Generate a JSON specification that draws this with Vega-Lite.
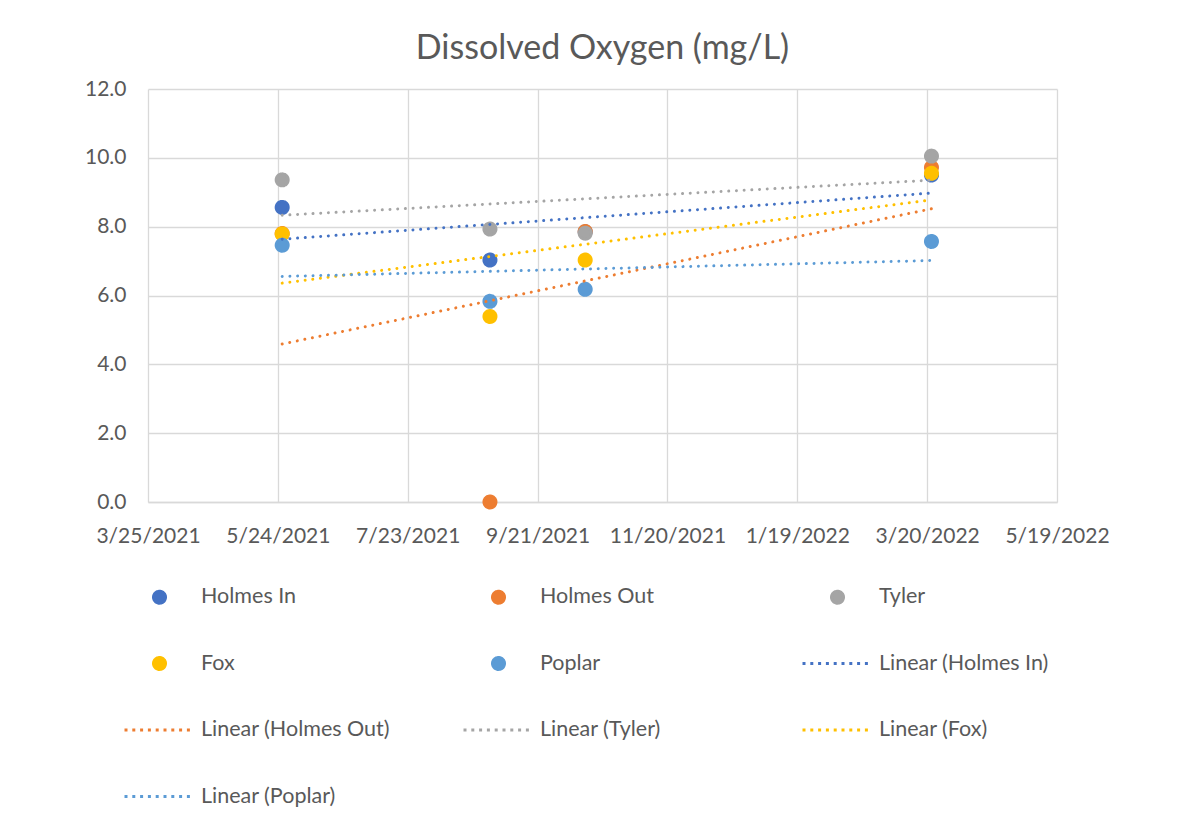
{
  "$schema": "https://vega.github.io/schema/vega-lite/v6.json",
  "width": 909,
  "height": 413,
  "autosize": "none",
  "padding": {"left": 148, "top": 89, "right": 143, "bottom": 322},
  "background": "white",
  "title": {
    "text": "Dissolved Oxygen (mg/L)",
    "anchor": "middle",
    "font": "Lato",
    "fontSize": 34,
    "fontWeight": "normal",
    "color": "#595959",
    "offset": 12
  },
  "config": {
    "view": {"stroke": null},
    "axis": {
      "labelFont": "Lato",
      "labelFontSize": 21,
      "labelColor": "#595959",
      "gridColor": "#D9D9D9",
      "gridWidth": 1.3,
      "ticks": false,
      "title": null
    },
    "legend": {"labelFont": "Lato", "labelFontSize": 21.5, "labelColor": "#595959"}
  },
  "data": {
    "values": [
      {"series": "Holmes In", "trend": "Linear (Holmes In)", "date": "2021-05-26T00:00:00", "do": 8.56},
      {"series": "Holmes In", "trend": "Linear (Holmes In)", "date": "2021-08-30T00:00:00", "do": 7.03},
      {"series": "Holmes In", "trend": "Linear (Holmes In)", "date": "2021-10-13T00:00:00", "do": 7.85},
      {"series": "Holmes In", "trend": "Linear (Holmes In)", "date": "2022-03-22T00:00:00", "do": 9.5},
      {"series": "Holmes Out", "trend": "Linear (Holmes Out)", "date": "2021-05-26T00:00:00", "do": 7.8},
      {"series": "Holmes Out", "trend": "Linear (Holmes Out)", "date": "2021-08-30T00:00:00", "do": 0.0},
      {"series": "Holmes Out", "trend": "Linear (Holmes Out)", "date": "2021-10-13T00:00:00", "do": 7.86},
      {"series": "Holmes Out", "trend": "Linear (Holmes Out)", "date": "2022-03-22T00:00:00", "do": 9.72},
      {"series": "Tyler", "trend": "Linear (Tyler)", "date": "2021-05-26T00:00:00", "do": 9.36},
      {"series": "Tyler", "trend": "Linear (Tyler)", "date": "2021-08-30T00:00:00", "do": 7.93},
      {"series": "Tyler", "trend": "Linear (Tyler)", "date": "2021-10-13T00:00:00", "do": 7.81},
      {"series": "Tyler", "trend": "Linear (Tyler)", "date": "2022-03-22T00:00:00", "do": 10.05},
      {"series": "Fox", "trend": "Linear (Fox)", "date": "2021-05-26T00:00:00", "do": 7.79},
      {"series": "Fox", "trend": "Linear (Fox)", "date": "2021-08-30T00:00:00", "do": 5.39},
      {"series": "Fox", "trend": "Linear (Fox)", "date": "2021-10-13T00:00:00", "do": 7.03},
      {"series": "Fox", "trend": "Linear (Fox)", "date": "2022-03-22T00:00:00", "do": 9.55},
      {"series": "Poplar", "trend": "Linear (Poplar)", "date": "2021-05-26T00:00:00", "do": 7.46},
      {"series": "Poplar", "trend": "Linear (Poplar)", "date": "2021-08-30T00:00:00", "do": 5.83},
      {"series": "Poplar", "trend": "Linear (Poplar)", "date": "2021-10-13T00:00:00", "do": 6.18},
      {"series": "Poplar", "trend": "Linear (Poplar)", "date": "2022-03-22T00:00:00", "do": 7.57}
    ],
    "format": {"parse": {"date": "date"}}
  },
  "encoding": {
    "x": {
      "field": "date",
      "type": "temporal",
      "scale": {
        "domain": [
          {"year": 2021, "month": 3, "date": 25},
          {"year": 2022, "month": 5, "date": 19}
        ],
        "nice": false
      },
      "axis": {
        "values": [
          {"year": 2021, "month": 3, "date": 25},
          {"year": 2021, "month": 5, "date": 24},
          {"year": 2021, "month": 7, "date": 23},
          {"year": 2021, "month": 9, "date": 21},
          {"year": 2021, "month": 11, "date": 20},
          {"year": 2022, "month": 1, "date": 19},
          {"year": 2022, "month": 3, "date": 20},
          {"year": 2022, "month": 5, "date": 19}
        ],
        "format": "%-m/%-d/%Y",
        "labelPadding": 23,
        "domainColor": "#D9D9D9",
        "domainWidth": 1.3,
        "labelFlush": false,
        "labelOverlap": false
      }
    },
    "y": {
      "field": "do",
      "type": "quantitative",
      "scale": {"domain": [0, 12], "nice": false},
      "axis": {
        "values": [0, 2, 4, 6, 8, 10, 12],
        "format": ".1f",
        "domain": false,
        "labelPadding": 22
      }
    }
  },
  "layer": [
    {
      "mark": {"type": "point", "filled": true, "size": 4900, "strokeWidth": 3, "opacity": 1},
      "encoding": {
        "fill": {
          "field": "series",
          "type": "nominal",
          "scale": {
            "domain": ["Holmes In", "Holmes Out", "Tyler", "Fox", "Poplar", "Linear (Holmes In)", "Linear (Holmes Out)", "Linear (Tyler)", "Linear (Fox)", "Linear (Poplar)"],
            "range": ["#4472C4", "#ED7D31", "#A5A5A5", "#FFC000", "#5B9BD5", "#4472C4", "#ED7D31", "#A5A5A5", "#FFC000", "#5B9BD5"]
          },
          "legend": {
            "title": null,
            "orient": "none",
            "direction": "horizontal",
            "legendX": -25,
            "legendY": 498,
            "columns": 3,
            "gridAlign": "all",
            "columnPadding": 72,
            "rowPadding": 44.5,
            "clipHeight": 20,
            "padding": 0,
            "symbolSize": 4900,
            "symbolStrokeWidth": 3,
            "labelOffset": 5,
            "labelLimit": 400
          }
        },
        "stroke": {
          "field": "series",
          "type": "nominal",
          "scale": {
            "domain": ["Holmes In", "Holmes Out", "Tyler", "Fox", "Poplar", "Linear (Holmes In)", "Linear (Holmes Out)", "Linear (Tyler)", "Linear (Fox)", "Linear (Poplar)"],
            "range": ["#4472C4", "#ED7D31", "#A5A5A5", "#FFC000", "#5B9BD5", "#4472C4", "#ED7D31", "#A5A5A5", "#FFC000", "#5B9BD5"]
          },
          "legend": {"title": null}
        },
        "shape": {
          "field": "series",
          "type": "nominal",
          "scale": {
            "domain": ["Holmes In", "Holmes Out", "Tyler", "Fox", "Poplar", "Linear (Holmes In)", "Linear (Holmes Out)", "Linear (Tyler)", "Linear (Fox)", "Linear (Poplar)"],
            "range": [
              "M-0.1714,0A0.1714,0.1714,0,1,1,0.1714,0A0.1714,0.1714,0,1,1,-0.1714,0Z",
              "M-0.1714,0A0.1714,0.1714,0,1,1,0.1714,0A0.1714,0.1714,0,1,1,-0.1714,0Z",
              "M-0.1714,0A0.1714,0.1714,0,1,1,0.1714,0A0.1714,0.1714,0,1,1,-0.1714,0Z",
              "M-0.1714,0A0.1714,0.1714,0,1,1,0.1714,0A0.1714,0.1714,0,1,1,-0.1714,0Z",
              "M-0.1714,0A0.1714,0.1714,0,1,1,0.1714,0A0.1714,0.1714,0,1,1,-0.1714,0Z",
              "M-1,0H1", "M-1,0H1", "M-1,0H1", "M-1,0H1", "M-1,0H1"
            ]
          },
          "legend": {"title": null}
        },
        "strokeDash": {
          "field": "series",
          "type": "nominal",
          "scale": {
            "domain": ["Holmes In", "Holmes Out", "Tyler", "Fox", "Poplar", "Linear (Holmes In)", "Linear (Holmes Out)", "Linear (Tyler)", "Linear (Fox)", "Linear (Poplar)"],
            "range": [[1, 0], [1, 0], [1, 0], [1, 0], [1, 0], [3, 4.8], [3, 4.8], [3, 4.8], [3, 4.8], [3, 4.8]]
          },
          "legend": {"title": null}
        }
      }
    },
    {
      "transform": [
        {"regression": "do", "on": "date", "groupby": ["trend"], "method": "linear"}
      ],
      "mark": {"type": "line", "strokeWidth": 3, "strokeDash": [0.01, 7.7], "strokeCap": "round"},
      "encoding": {
        "color": {
          "field": "trend",
          "type": "nominal",
          "scale": {
            "domain": ["Linear (Holmes In)", "Linear (Holmes Out)", "Linear (Tyler)", "Linear (Fox)", "Linear (Poplar)"],
            "range": ["#4472C4", "#ED7D31", "#A5A5A5", "#FFC000", "#5B9BD5"]
          },
          "legend": null
        }
      }
    }
  ]
}
